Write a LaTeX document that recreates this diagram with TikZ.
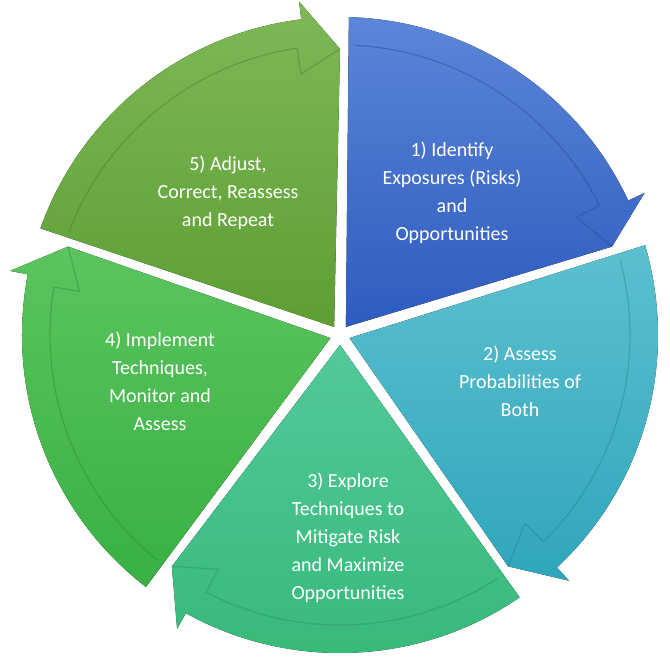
\documentclass[tikz,border=0pt]{standalone}
\usepackage{fontspec}
\setmainfont{Carlito}
\usetikzlibrary{calc}
\definecolor{ba}{HTML}{5B86D8}\definecolor{bb}{HTML}{2E5BBF}
\definecolor{ta}{HTML}{5CC0CE}\definecolor{tb}{HTML}{2FA6BC}
\definecolor{ga}{HTML}{52C99A}\definecolor{gb}{HTML}{36B978}
\definecolor{la}{HTML}{5BC45E}\definecolor{lb}{HTML}{38B043}
\definecolor{oa}{HTML}{7DB957}\definecolor{ob}{HTML}{5E9E33}
\tikzset{lbl/.style={text=white,align=center,font=\fontsize{20}{28}\selectfont}}
\begin{document}
\begin{tikzpicture}[x=1pt,y=1pt]
\useasboundingbox (0,0) rectangle (670,664);
\coordinate (C) at (340,329);
\foreach \b/\ca/\cb in {90/ba/bb,18/ta/tb,-54/ga/gb,-126/la/lb,162/oa/ob}{
  \pgfmathsetmacro\e{\b-72}
  \pgfmathsetmacro\m{\b-36}
  \pgfmathsetmacro\s{\b-1.6}
  \pgfmathsetmacro\r{\e+7}
  \coordinate (A) at ($(C)+(\m:10)$);
  \fill[top color=\ca,bottom color=\cb] (A) -- ($(C)+(\s:318)$) arc[start angle=\s,end angle=\r,radius=318]
    -- ($(C)+(\r:336)$) -- ($(C)+(\e:286)$) -- cycle;
  \draw[\cb!70!black,opacity=0.35,line width=1.2pt] ($(C)+(\b-3:290)$) arc[start angle=\b-3,end angle=\e+8.5,radius=290]
    -- ($(C)+(\e+8.5:264)$) -- ($(C)+(\e:286)$);
}
\node[lbl] (n1) at (452,471) {1) Identify\\Exposures (Risks)\\and\\Opportunities};
\node[lbl] (n2) at (520,283) {2) Assess\\Probabilities of\\Both};
\node[lbl] (n3) at (348,126) {3) Explore\\Techniques to\\Mitigate Risk\\and Maximize\\Opportunities};
\node[lbl] (n4) at (160,283) {4) Implement\\Techniques,\\Monitor and\\Assess};
\node[lbl] (n5) at (228,471) {5) Adjust,\\Correct, Reassess\\and Repeat};
\end{tikzpicture}
\end{document}
